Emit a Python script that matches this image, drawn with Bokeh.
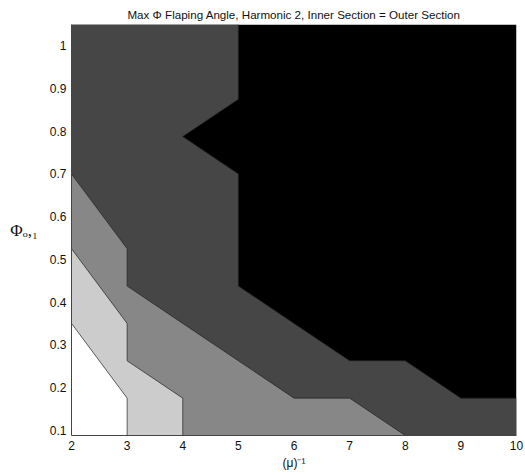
from bokeh.plotting import figure
from bokeh.models import Range1d, FixedTicker, CustomJSTickFormatter
from bokeh.embed import file_html
from bokeh.resources import INLINE

# axis domain
x_lim = [2, 10]
y_lim = [0.0875, 1.05]

# contour boundaries between adjacent shading levels
b1_x = [2, 3, 3]
b1_y = [0.35, 0.175, 0.0875]
b2_x = [2, 3, 3, 4, 4]
b2_y = [0.525, 0.35, 0.2625, 0.175, 0.0875]
b3_x = [2, 3, 3, 4, 5, 6, 7, 8]
b3_y = [0.7, 0.525, 0.4375, 0.35, 0.2625, 0.175, 0.175, 0.0875]
b4_x = [5, 5, 4, 5, 5, 6, 7, 8, 9, 10]
b4_y = [1.05, 0.875, 0.7875, 0.7, 0.4375, 0.35, 0.2625, 0.2625, 0.175, 0.175]

# shading, lowest level to highest
level_colors = ["#ffffff", "#cccccc", "#878787", "#464646", "#000000"]

x_ticks = [2, 3, 4, 5, 6, 7, 8, 9, 10]
y_ticks = [0.1, 0.2, 0.3, 0.4, 0.5, 0.6, 0.7, 0.8, 0.9, 1.0]

title_text = "Max \u03a6 Flaping Angle, Harmonic 2, Inner Section = Outer Section"
x_label = "(\u03bc)\u207b\u00b9"
y_label = "\u03a6\u2092,\u2081"

p = figure(width=525, height=475, output_backend="svg", toolbar_location=None,
           x_range=Range1d(*x_lim), y_range=Range1d(*y_lim),
           min_border_left=71, min_border_right=9, min_border_top=24, min_border_bottom=40)
p.grid.visible = False
p.outline_line_color = None
p.background_fill_color = "white"

xmin, xmax = x_lim
ymin, ymax = y_lim

# highest level: full domain
p.patch([xmin, xmax, xmax, xmin], [ymin, ymin, ymax, ymax], fill_color=level_colors[4], line_color=None)
# level 3: left/below b4
p.patch(b4_x + [xmax, xmin, xmin], b4_y + [ymin, ymin, ymax], fill_color=level_colors[3], line_color=None)
# level 2: below b3
p.patch(b3_x + [xmin], b3_y + [ymin], fill_color=level_colors[2], line_color=None)
# level 1: below b2
p.patch(b2_x + [xmin], b2_y + [ymin], fill_color=level_colors[1], line_color=None)
# level 0: below b1
p.patch(b1_x + [xmin], b1_y + [ymin], fill_color=level_colors[0], line_color=None)

for bx, by in [(b1_x, b1_y), (b2_x, b2_y), (b3_x, b3_y), (b4_x, b4_y)]:
    p.line(bx, by, line_color="#222222", line_width=0.7)

p.xaxis.ticker = FixedTicker(ticks=x_ticks)
p.yaxis.ticker = FixedTicker(ticks=y_ticks)
p.yaxis.formatter = CustomJSTickFormatter(code="return tick.toFixed(1).replace(/\\.0$/, '');")
for ax in (p.xaxis, p.yaxis):
    ax.major_tick_line_color = None
    ax.minor_tick_line_color = None
    ax.major_tick_out = 0
    ax.major_tick_in = 0
    ax.major_label_standoff = 5
    ax.major_label_text_font = "Liberation Sans"
    ax.major_label_text_font_size = "12px"
    ax.major_label_text_color = "#111111"
    ax.axis_line_color = "#444444"
    ax.axis_line_width = 1

p.xaxis.axis_label = x_label
p.xaxis.axis_label_text_font = "Liberation Sans"
p.xaxis.axis_label_text_font_size = "12px"
p.xaxis.axis_label_text_font_style = "normal"
p.xaxis.axis_label_text_color = "#111111"
p.xaxis.axis_label_standoff = 3

p.yaxis.axis_label = y_label
p.yaxis.axis_label_orientation = "horizontal"
p.yaxis.axis_label_text_font = "Liberation Serif"
p.yaxis.axis_label_text_font_size = "17px"
p.yaxis.axis_label_text_font_style = "normal"
p.yaxis.axis_label_text_color = "#111111"
p.yaxis.axis_label_standoff = 9

p.title.text = title_text
p.title.align = "center"
p.title.text_font = "Liberation Sans"
p.title.text_font_size = "11.6px"
p.title.text_font_style = "normal"
p.title.text_color = "#111111"
p.title.standoff = 7

open("out.html", "w").write(file_html(p, INLINE))
